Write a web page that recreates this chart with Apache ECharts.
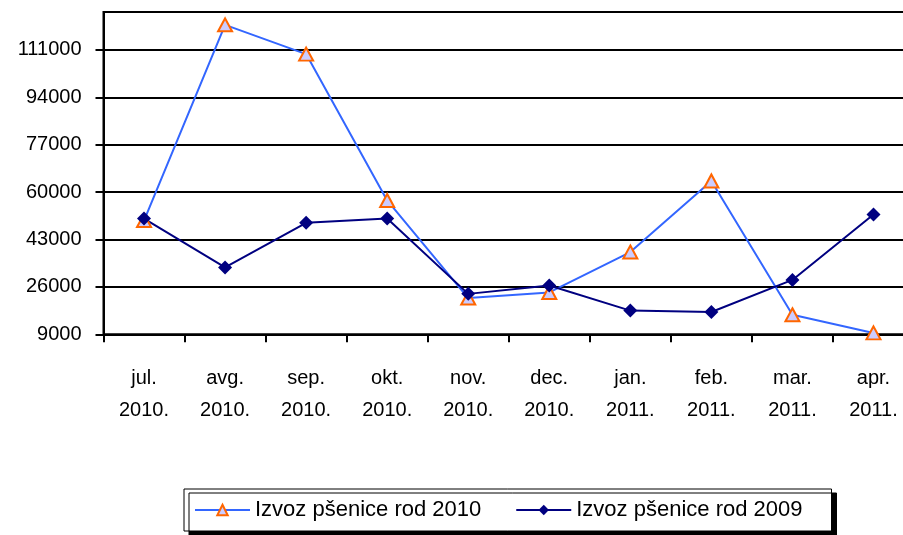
<!DOCTYPE html>
<html>
<head>
<meta charset="utf-8">
<script src="https://cdn.jsdelivr.net/npm/echarts@6/dist/echarts.min.js"></script>
<style>
  html, body { margin: 0; padding: 0; background: #fff; }
  #chart { width: 903px; height: 535px; }
</style>
</head>
<body>
<div id="chart"></div>
<script>
// mjeseci (dvije linije teksta)
var categories = ['jul.\n2010.', 'avg.\n2010.', 'sep.\n2010.', 'okt.\n2010.', 'nov.\n2010.',
  'dec.\n2010.', 'jan.\n2011.', 'feb.\n2011.', 'mar.\n2011.', 'apr.\n2011.'];
var rod2010 = [49800, 120000, 109500, 57000, 22000, 24000, 38500, 64000, 16000, 9500];
var rod2009 = [50500, 33000, 49000, 50500, 23500, 26500, 17500, 17000, 28500, 52000];
var yTicks = [9000, 26000, 43000, 60000, 77000, 94000, 111000];
var seriesNames = ['Izvoz pšenice rod 2010', 'Izvoz pšenice rod 2009'];

var font = "'Liberation Sans', Arial, sans-serif";
var chart = echarts.init(document.getElementById('chart'));
chart.setOption({
  animation: false,
  backgroundColor: '#fff',
  grid: {
    left: 103.5,
    width: 810.5,
    top: 12,
    height: 322.3,
    outerBoundsMode: 'none',
    containLabel: false,
    show: true,
    borderColor: '#000',
    borderWidth: 2
  },
  legend: {
    left: 184,
    top: 489,
    orient: 'horizontal',
    data: seriesNames,
    itemWidth: 55,
    itemHeight: 13,
    itemGap: 34,
    padding: [10, 29, 10, 10],
    backgroundColor: '#fff',
    borderColor: '#000',
    borderWidth: 1,
    borderRadius: 0,
    shadowColor: '#000',
    shadowBlur: 0,
    shadowOffsetX: 5,
    shadowOffsetY: 4,
    textStyle: {
      fontFamily: font,
      fontSize: 22,
      color: '#000'
    }
  },
  xAxis: {
    type: 'category',
    data: categories,
    boundaryGap: true,
    axisLine: { lineStyle: { color: '#000', width: 2 } },
    axisTick: { show: true, inside: false, length: 8, lineStyle: { color: '#000', width: 2 } },
    axisLabel: {
      interval: 0,
      margin: 28,
      fontFamily: font,
      fontSize: 20,
      lineHeight: 32,
      color: '#000'
    },
    splitLine: { show: false }
  },
  yAxis: {
    type: 'value',
    min: 9000,
    max: 124600,
    interval: 17000,
    axisLine: { show: true, lineStyle: { color: '#000', width: 2 } },
    axisTick: { show: true, length: 8, customValues: yTicks, lineStyle: { color: '#000', width: 2 } },
    axisLabel: {
      customValues: yTicks,
      margin: 22,
      fontFamily: font,
      fontSize: 20,
      color: '#000',
      formatter: function (value) {
        return String(value);
      }
    },
    splitLine: { show: true, lineStyle: { color: '#000', width: 2 } }
  },
  series: [{
    name: seriesNames[0],
    type: 'line',
    data: rod2010,
    symbol: 'triangle',
    symbolSize: [14, 13],
    showAllSymbol: true,
    itemStyle: { color: '#CCCCFF', borderColor: '#FF6600', borderWidth: 2 },
    lineStyle: { color: '#3366FF', width: 2 },
    emphasis: { disabled: true }
  }, {
    name: seriesNames[1],
    type: 'line',
    data: rod2009,
    symbol: 'diamond',
    symbolSize: 14,
    showAllSymbol: true,
    itemStyle: { color: '#000080' },
    lineStyle: { color: '#000080', width: 2 },
    emphasis: { disabled: true }
  }]
});
</script>
</body>
</html>
